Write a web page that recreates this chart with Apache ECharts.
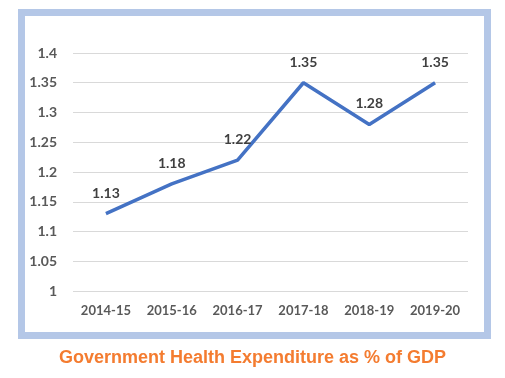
<!DOCTYPE html>
<html><head><meta charset="utf-8">
<script src="https://cdn.jsdelivr.net/npm/echarts@6/dist/echarts.min.js"></script>
<style>html,body{margin:0;padding:0;background:#fff}#c{width:505px;height:378px}</style>
</head><body><div id="c"></div>
<script>
const categories = ['2014-15','2015-16','2016-17','2017-18','2018-19','2019-20'];
const values = [1.13, 1.18, 1.22, 1.35, 1.28, 1.35];
const titleText = 'Government Health Expenditure as % of GDP';
const chart = echarts.init(document.getElementById('c'));
chart.setOption({
  animation: false,
  backgroundColor: '#fff',
  graphic: [
    { type: 'rect', shape: { x: 21.5, y: 12.5, width: 466, height: 323 }, style: { fill: 'none', stroke: '#b4c7e7', lineWidth: 7 }, z: -1 },
    { type: 'text', left: 'center', top: 349, style: { text: titleText, fill: '#f47c30', font: 'bold 18px "Liberation Sans", Arial, sans-serif' } }
  ],
  grid: { left: 73, right: 37, top: 53, bottom: 87 },
  xAxis: {
    type: 'category', data: categories, boundaryGap: true,
    axisLine: { show: false }, axisTick: { show: false },
    axisLabel: { interval: 0, color: '#595959', fontSize: 13, fontWeight: 'bold', fontFamily: 'Lato, sans-serif', margin: 13 }
  },
  yAxis: {
    type: 'value', min: 1, max: 1.4, interval: 0.05,
    axisLine: { show: false }, axisTick: { show: false },
    splitLine: { lineStyle: { color: '#d9d9d9', width: 1 } },
    axisLabel: { color: '#595959', fontSize: 14, fontWeight: 'bold', fontFamily: 'Lato, sans-serif', margin: 16,
      formatter: v => String(parseFloat(v.toFixed(2))) }
  },
  series: [{
    type: 'line', data: values, symbol: 'circle', symbolSize: 1, showSymbol: true,
    itemStyle: { color: 'rgba(0,0,0,0)' },
    lineStyle: { color: '#4472c4', width: 3.5 },
    label: { show: true, position: 'top', distance: 13, color: '#404040', fontSize: 14, fontWeight: 'bold', fontFamily: 'Lato, sans-serif',
      formatter: function (p) { return Number(p.value).toFixed(2); } }
  }]
});
</script></body></html>
